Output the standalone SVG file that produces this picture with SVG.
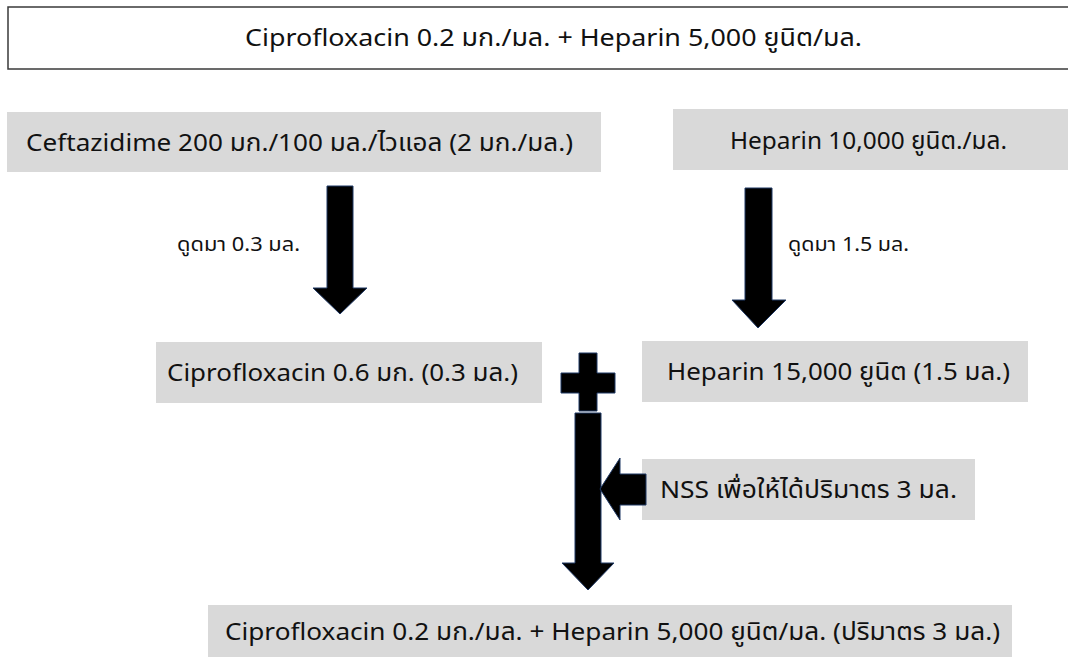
<svg xmlns="http://www.w3.org/2000/svg" width="1068" height="658" viewBox="0 0 1068 658">
  <style>
    .box { fill: #d9d9d9; }
    .frame { fill: #ffffff; stroke: #3a3a3a; stroke-width: 1.5; }
    .t { font-family: "Noto Sans", "Noto Sans Thai", "DejaVu Sans", sans-serif; font-size: 24px; fill: #111111; }
    .lbl { font-family: "Noto Sans", "Noto Sans Thai", "DejaVu Sans", sans-serif; font-size: 19px; fill: #111111; }
    .arrow { fill: #000000; stroke: #1f3864; stroke-width: 1; stroke-linejoin: miter; }
  </style>
  <rect width="1068" height="658" fill="#ffffff"/>

  <!-- result summary at the top -->
  <g id="summary">
    <rect class="frame" x="8" y="7" width="1070" height="62"/>
    <text class="t" x="245" y="46" textLength="617" lengthAdjust="spacingAndGlyphs">Ciprofloxacin 0.2 มก./มล. + Heparin 5,000 ยูนิต/มล.</text>
  </g>

  <!-- stock solutions -->
  <g id="ceftazidime">
    <rect class="box" x="7" y="112" width="594" height="60"/>
    <text class="t" x="26" y="151" textLength="547" lengthAdjust="spacingAndGlyphs">Ceftazidime 200 มก./100 มล./ไวแอล (2 มก./มล.)</text>
  </g>
  <g id="heparin-stock">
    <rect class="box" x="673" y="109" width="400" height="61"/>
    <text class="t" x="730" y="149" textLength="277" lengthAdjust="spacingAndGlyphs">Heparin 10,000 ยูนิต./มล.</text>
  </g>

  <!-- drawn volumes -->
  <g id="cipro-dose">
    <rect class="box" x="156" y="342" width="386" height="61"/>
    <text class="t" x="167" y="381" textLength="351" lengthAdjust="spacingAndGlyphs">Ciprofloxacin 0.6 มก. (0.3 มล.)</text>
  </g>
  <g id="heparin-dose">
    <rect class="box" x="642" y="341" width="386" height="61"/>
    <text class="t" x="667" y="380" textLength="343" lengthAdjust="spacingAndGlyphs">Heparin 15,000 ยูนิต (1.5 มล.)</text>
  </g>

  <!-- diluent -->
  <g id="nss">
    <rect class="box" x="642" y="459" width="333" height="61"/>
    <text class="t" x="660" y="498" textLength="297" lengthAdjust="spacingAndGlyphs">NSS เพื่อให้ได้ปริมาตร 3 มล.</text>
  </g>

  <!-- final mixture -->
  <g id="final-mix">
    <rect class="box" x="208" y="605" width="804" height="52"/>
    <text class="t" x="225" y="640" textLength="775" lengthAdjust="spacingAndGlyphs">Ciprofloxacin 0.2 มก./มล. + Heparin 5,000 ยูนิต/มล. (ปริมาตร 3 มล.)</text>
  </g>

  <!-- block arrows and the plus sign -->
  <g id="connectors">
    <path class="arrow" d="M327,186 H353 V288 H367 L340,314 L313,288 H327 Z"/>
    <text class="lbl" x="177" y="251" textLength="123" lengthAdjust="spacingAndGlyphs">ดูดมา 0.3 มล.</text>

    <path class="arrow" d="M745,188 H772 V300 H786 L758,328 L732,300 H745 Z"/>
    <text class="lbl" x="788" y="251" textLength="121" lengthAdjust="spacingAndGlyphs">ดูดมา 1.5 มล.</text>

    <path class="arrow" d="M579,353 H597 V373 H615 V393 H597 V411 H579 V393 H561 V373 H579 Z"/>

    <path class="arrow" d="M575,413 H601 V563 H614 L588,590 L562,563 H575 Z"/>

    <path class="arrow" d="M646,474 V505 H620 V520 L600,489 L620,458 V474 Z"/>
  </g>
</svg>
